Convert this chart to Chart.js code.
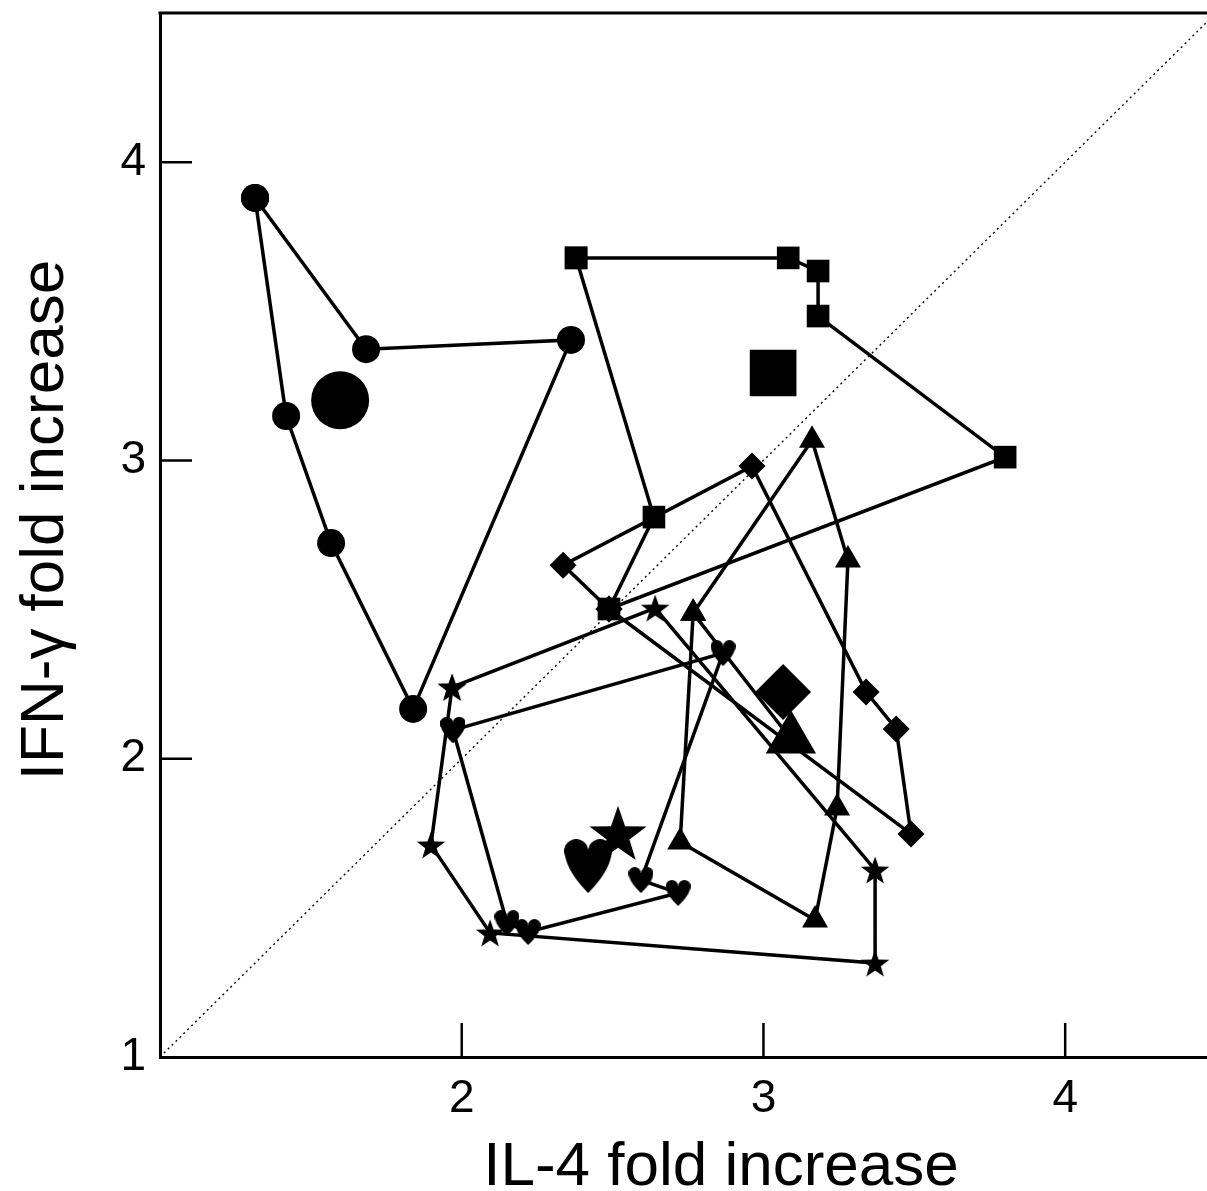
<!DOCTYPE html>
<html><head><meta charset="utf-8">
<script src="https://cdn.jsdelivr.net/npm/chart.js@4/dist/chart.umd.min.js"></script>
<style>html,body{margin:0;padding:0;background:#fff;overflow:hidden}</style>
</head><body>
<canvas id="c" width="1207" height="1191"></canvas>
<script>
// ---- tick labels & titles ----
const xTickValues = [2, 3, 4];
const yTickValues = [1, 2, 3, 4];
const xTitle = 'IL-4 fold increase';
const yTitle = 'IFN-\u03b3 fold increase';

// ---- series (path order; x = IL-4 fold increase, y = IFN-γ fold increase) ----
const circleX   = [1.315, 1.683, 2.362, 1.839, 1.567, 1.418, 1.315];
const circleY   = [3.880, 3.373, 3.404, 2.167, 2.723, 3.149, 3.880];
const squareX   = [2.379, 3.082, 3.181, 3.181, 3.801, 2.488, 2.637, 2.379];
const squareY   = [3.679, 3.679, 3.635, 3.484, 3.011, 2.502, 2.810, 3.679];
const diamondX  = [2.488, 2.336, 2.962, 3.340, 3.440, 3.489, 2.488];
const diamondY  = [2.502, 2.649, 2.981, 2.224, 2.100, 1.748, 2.502];
const triangleX = [3.091, 2.767, 3.161, 3.280, 3.244, 3.171, 2.724, 2.767];
const triangleY = [2.066, 2.488, 3.068, 2.666, 1.835, 1.459, 1.721, 2.488];
const starX     = [1.968, 2.641, 3.370, 3.370, 2.094, 1.898, 1.968];
const starY     = [2.240, 2.505, 1.627, 1.315, 1.416, 1.711, 2.240];
const heartX    = [1.971, 2.866, 2.594, 2.717, 2.220, 2.150, 1.971];
const heartY    = [2.096, 2.354, 1.593, 1.550, 1.419, 1.449, 2.096];

// ---- large (mean) markers: circle, square, diamond, triangle, star, heart ----
const meanX = [1.597, 3.032, 3.065, 3.091, 2.518, 2.419];
const meanY = [3.202, 3.293, 2.224, 2.066, 1.751, 1.640];

// ---- identity line ----
const diagX = [1, 4.5];
const diagY = [1, 4.5];

const FONT = '"Liberation Sans", Arial, Helvetica, sans-serif';

function pts(xs, ys) { return xs.map((x, i) => ({ x: x, y: ys[i] })); }

function starCanvas(R) {
  const s = Math.ceil(2 * R + 2);
  const c = document.createElement('canvas'); c.width = s; c.height = s;
  const g = c.getContext('2d'); g.fillStyle = '#000'; g.beginPath();
  const cx = s / 2, cy = s / 2 + R * 0.095;
  for (let i = 0; i < 10; i++) {
    const r = (i % 2) ? R * 0.4 : R;
    const a = -Math.PI / 2 + i * Math.PI / 5;
    g.lineTo(cx + r * Math.cos(a), cy + r * Math.sin(a));
  }
  g.closePath(); g.fill();
  return c;
}
function heartCanvas(w, h) {
  const c = document.createElement('canvas'); c.width = w; c.height = h;
  const g = c.getContext('2d'); g.fillStyle = '#000';
  const r = w / 4;
  g.beginPath(); g.arc(r, r, r, 0, 2 * Math.PI); g.fill();
  g.beginPath(); g.arc(3 * r, r, r, 0, 2 * Math.PI); g.fill();
  g.beginPath();
  g.moveTo(r - r * 0.92, r + r * 0.4);
  g.quadraticCurveTo(w * 0.08, h * 0.62, w / 2, h);
  g.quadraticCurveTo(w * 0.92, h * 0.62, 3 * r + r * 0.92, r + r * 0.4);
  g.lineTo(w / 2, r);
  g.closePath(); g.fill();
  return c;
}

const smallStar = starCanvas(15), bigStar = starCanvas(30);
const smallHeart = heartCanvas(25, 26), bigHeart = heartCanvas(48, 54);

function series(xs, ys, style, radius) {
  return {
    data: pts(xs, ys), showLine: true, borderColor: '#000', borderWidth: 3.5,
    tension: 0, fill: false, pointStyle: style, pointRadius: radius,
    pointBackgroundColor: '#000', pointBorderColor: '#000', pointBorderWidth: 0,
    pointHoverRadius: radius
  };
}
const meanStyles = ['circle', 'rect', 'rectRot', 'triangle', bigStar, bigHeart];
const meanRadius = [29, 33, 28, 29, 30, 27];
const meanSets = meanX.map((x, i) => ({
  data: [{ x: x, y: meanY[i] }], showLine: false, pointStyle: meanStyles[i],
  pointRadius: meanRadius[i], pointHoverRadius: meanRadius[i],
  pointBackgroundColor: '#000', pointBorderColor: '#000', pointBorderWidth: 0
}));

const datasets = meanSets.concat([
  series(circleX, circleY, 'circle', 14),
  series(squareX, squareY, 'rect', 16),
  series(starX, starY, smallStar, 10),
  series(heartX, heartY, smallHeart, 10),
  series(triangleX, triangleY, 'triangle', 15),
  series(diamondX, diamondY, 'rectRot', 13.5),
  { data: pts(diagX, diagY), showLine: true, borderColor: '#000', borderWidth: 1.4,
    borderDash: [2, 3.5], pointRadius: 0, pointHoverRadius: 0, fill: false, tension: 0 }
]);

const framePlugin = {
  id: 'frame',
  afterDraw(chart) {
    const { ctx, chartArea: a, scales: { x, y } } = chart;
    ctx.save();
    ctx.strokeStyle = '#000';
    ctx.lineWidth = 3;
    ctx.beginPath();
    ctx.moveTo(a.left - 1.5, a.top); ctx.lineTo(a.right, a.top);
    ctx.stroke();
    ctx.lineWidth = 2.5;
    ctx.beginPath();
    xTickValues.forEach(v => { const p = x.getPixelForValue(v); ctx.moveTo(p, a.bottom); ctx.lineTo(p, a.bottom - 34); });
    yTickValues.filter(v => v > y.min).forEach(v => { const p = y.getPixelForValue(v); ctx.moveTo(a.left, p); ctx.lineTo(a.left + 32, p); });
    ctx.stroke();
    ctx.fillStyle = '#000';
    ctx.font = '62px ' + FONT;
    ctx.textAlign = 'center';
    ctx.textBaseline = 'alphabetic';
    ctx.fillText(xTitle, a.left + 561, 1185);
    ctx.translate(63, 520);
    ctx.rotate(-Math.PI / 2);
    ctx.fillText(yTitle, 0, 0);
    ctx.restore();
  }
};

new Chart(document.getElementById('c'), {
  type: 'scatter',
  data: { datasets: datasets },
  options: {
    responsive: false, animation: false, devicePixelRatio: 1, events: [],
    layout: { autoPadding: false, padding: { top: 13, right: 0, left: 0, bottom: 0 } },
    plugins: { legend: { display: false }, tooltip: { enabled: false } },
    scales: {
      x: {
        type: 'linear', min: 1, max: 4.47,
        grid: { display: false, drawTicks: false },
        border: { display: true, color: '#000', width: 3 },
        afterBuildTicks: s => { s.ticks = xTickValues.map(v => ({ value: v })); },
        ticks: { color: '#000', font: { family: FONT, size: 46 }, padding: 15, maxRotation: 0, autoSkip: false },
        afterFit: s => { s.height = 134; s.paddingLeft = 0; s.paddingRight = 0; }
      },
      y: {
        type: 'linear', min: 1, max: 4.5,
        grid: { display: false, drawTicks: false },
        border: { display: true, color: '#000', width: 3 },
        afterBuildTicks: s => { s.ticks = yTickValues.map(v => ({ value: v })); },
        ticks: { color: '#000', font: { family: FONT, size: 46 }, padding: 14, autoSkip: false },
        afterFit: s => { s.width = 160; s.paddingTop = 0; s.paddingBottom = 0; }
      }
    }
  },
  plugins: [framePlugin]
});
</script>
</body></html>
